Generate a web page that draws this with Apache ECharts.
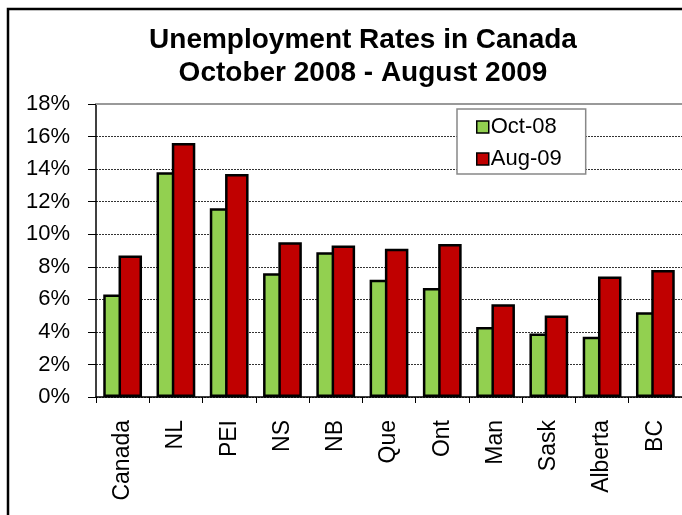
<!DOCTYPE html>
<html>
<head>
<meta charset="utf-8">
<script src="https://cdn.jsdelivr.net/npm/echarts@6/dist/echarts.min.js"></script>
<style>
html,body{margin:0;padding:0;background:#fff;overflow:hidden;}
#chart{width:682px;height:515px;}
</style>
</head>
<body>
<div id="chart"></div>
<script>
var categories = ['Canada','NL','PEI','NS','NB','Que','Ont','Man','Sask','Alberta','BC'];
var oct08 = [6.3,13.8,11.6,7.6,8.9,7.2,6.7,4.3,3.9,3.7,5.2];
var aug09 = [8.7,15.6,13.7,9.5,9.3,9.1,9.4,5.7,5.0,7.4,7.8];
var seriesNames = ['Oct-08','Aug-09'];
var titleLines = ['Unemployment Rates in Canada','October 2008 - August 2009'];

var FONT = "'Liberation Sans', Arial, sans-serif";
var chart = echarts.init(document.getElementById('chart'), null, {renderer:'canvas'});
chart.setOption({
  animation:false,
  backgroundColor:'#fff',
  graphic:[{
    type:'rect', z:100, silent:true,
    shape:{x:8, y:9, width:900, height:900},
    style:{fill:'none', stroke:'#000', lineWidth:2.5}
  }],
  title:{
    text: titleLines.join('\n'),
    left:363, top:24, padding:0, textAlign:'center',
    textStyle:{fontFamily:FONT, fontSize:28, fontWeight:'bold', color:'#000', lineHeight:33}
  },
  legend:{
    orient:'vertical', left:457, top:109,
    padding:[7,24,4,19], itemGap:10, itemWidth:12, itemHeight:12,
    backgroundColor:'#fff', borderColor:'#888', borderWidth:1.5,
    icon:'rect',
    itemStyle:{borderColor:'#000', borderWidth:1.5},
    textStyle:{fontFamily:FONT, fontSize:22, color:'#000', padding:[0,0,0,-3]},
    data: seriesNames
  },
  grid:{left:96, top:104, width:589, height:293, containLabel:false},
  xAxis:{
    type:'category', data:categories,
    axisLine:{show:true, lineStyle:{color:'#000', width:1.5}},
    axisTick:{show:true, length:6, lineStyle:{color:'#000', width:1}},
    axisLabel:{rotate:90, margin:23, fontFamily:FONT, fontSize:23, color:'#000', interval:0}
  },
  yAxis:{
    type:'value', min:0, max:18, interval:2,
    axisLine:{show:true, lineStyle:{color:'#000', width:1.5}},
    axisTick:{show:true, length:8, lineStyle:{color:'#000', width:1}},
    axisLabel:{formatter:'{value}%', margin:26, fontFamily:FONT, fontSize:22, color:'#000'},
    splitLine:{show:true, lineStyle:{color:'#333', width:1, type:[2,1]}}
  },
  series:[
    {name:seriesNames[0], type:'bar', data:oct08, barWidth:23.5, barGap:'-35%',
     itemStyle:{color:'#92D050', borderColor:'#000', borderWidth:2.5}},
    {name:seriesNames[1], type:'bar', data:aug09, barWidth:23.5, barGap:'-35%',
     itemStyle:{color:'#C00000', borderColor:'#000', borderWidth:2.5},
     markLine:{silent:true, symbol:'none', label:{show:false},
       lineStyle:{color:'#999', width:2, type:'solid'}, data:[{yAxis:18}]}}
  ]
});
</script>
</body>
</html>
